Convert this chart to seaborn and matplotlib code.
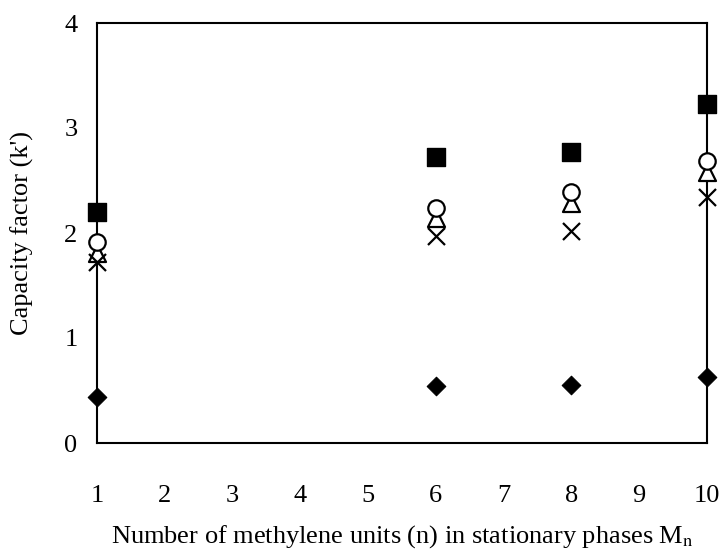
import numpy as np
import pandas as pd
import seaborn as sns
import matplotlib.pyplot as plt

# values
n_units = [1, 6, 8, 10]
k_square = [2.20, 2.72, 2.77, 3.23]
k_circle = [1.91, 2.24, 2.39, 2.69]
k_triangle = [1.81, 2.14, 2.29, 2.58]
k_cross = [1.72, 1.97, 2.02, 2.34]
k_diamond = [0.44, 0.54, 0.55, 0.63]

sns.set_theme(style='white')
plt.rcParams['font.family'] = ['Liberation Serif', 'DejaVu Serif']
plt.rcParams['mathtext.fontset'] = 'stix'

fig = plt.figure(figsize=(7.21, 5.5), dpi=100)
ax = fig.add_axes([97 / 721, 1 - 443 / 550, (707 - 97) / 721, (443 - 23) / 550])

series = [
    (k_square, dict(marker='s', s=150, color='black', edgecolor='black')),
    (k_triangle, dict(marker='^', s=150, facecolor='white', edgecolor='black', linewidth=1.6)),
    (k_circle, dict(marker='o', s=140, facecolor='white', edgecolor='black', linewidth=1.6)),
    (k_cross, dict(marker='x', s=150, color='black', linewidth=1.6)),
    (k_diamond, dict(marker='D', s=90, color='black', edgecolor='black')),
]
for vals, kw in series:
    sns.scatterplot(x=n_units, y=vals, ax=ax, clip_on=False, zorder=5, legend=False, **kw)

ax.set_xlim(1, 10)
ax.set_ylim(0, 4)
ax.set_xticks(range(1, 11))
ax.set_yticks(range(0, 5))
for sp in ax.spines.values():
    sp.set_color('black')
    sp.set_linewidth(1.5)
ax.tick_params(axis='x', direction='in', length=5, width=0.8, pad=30, labelsize=19, colors='black')
ax.tick_params(axis='y', direction='in', length=5, width=0.8, pad=14, labelsize=19, colors='black')
ax.set_xlabel('Number of methylene units (n) in stationary phases M$_\\mathrm{n}$',
              fontsize=19, labelpad=12, color='black')
ax.set_ylabel("Capacity factor (k')", fontsize=19, labelpad=22, color='black')

fig.savefig('out.png', dpi=100)
